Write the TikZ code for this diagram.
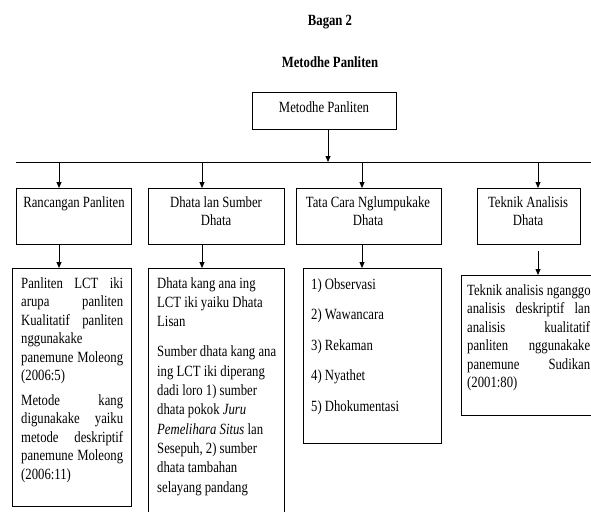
\documentclass[tikz,border=0pt]{standalone}
\usepackage{fontspec}
\setmainfont{Liberation Serif}[FakeStretch=0.815]
\usetikzlibrary{arrows.meta}
\newcommand{\fs}{\fontsize{15.6}{18.5}\selectfont}
\newcommand{\jl}[2]{\makebox[#1][s]{#2}}
\tikzset{
  box/.style={draw, line width=0.8pt, inner sep=0pt, anchor=north west},
  arr/.style={-{Triangle[length=6pt,width=5pt]}, line width=0.8pt},
  ln/.style={line width=0.8pt},
  txt/.style={inner sep=0pt, anchor=north west, align=left, font=\fs},
  ctxt/.style={inner sep=0pt, align=center, font=\fs},
  ttl/.style={inner sep=0pt, font=\fs\bfseries}
}
\begin{document}
\begin{tikzpicture}[x=1pt,y=-1pt]
\clip (0,0) rectangle (591,511);
\fill[white] (0,0) rectangle (591,511);
% titles
\node[ttl] (t1) at (330,22) {Bagan 2};
\node[ttl] (t2) at (330,62) {Metodhe Panliten};
% boxes
\node[box, minimum width=144, minimum height=37] (top) at (252,92) {};
\node[box, minimum width=115, minimum height=56] (r1) at (16,188) {};
\node[box, minimum width=136, minimum height=56] (r2) at (148,188) {};
\node[box, minimum width=145, minimum height=56] (r3) at (296,188) {};
\node[box, minimum width=103, minimum height=56] (r4) at (477,188) {};
\node[box, minimum width=119, minimum height=238] (d1) at (12,268) {};
\node[box, minimum width=136, minimum height=260] (d2) at (148,268) {};
\node[box, minimum width=138, minimum height=175] (d3) at (303,268) {};
\node[box, minimum width=150, minimum height=140] (d4) at (461,275) {};
% box texts
\node[ctxt] (toptx) at (324,107) {Metodhe Panliten};
\node[ctxt] (r1tx) at (74,204) {Rancangan Panliten};
\node[ctxt, anchor=north] (r2tx) at (216,196) {Dhata lan Sumber\\Dhata};
\node[ctxt, anchor=north] (r3tx) at (368,196) {Tata Cara Nglumpukake\\Dhata};
\node[ctxt, anchor=north] (r4tx) at (528,196) {Teknik Analisis\\Dhata};
\node[txt] (d1tx) at (21,277) {\jl{102pt}{Panliten LCT iki}\\
\jl{102pt}{arupa panliten}\\
\jl{102pt}{Kualitatif panliten}\\
nggunakake\\
\jl{102pt}{panemune Moleong}\\
(2006:5)\\[6pt]
\jl{102pt}{Metode kang}\\
\jl{102pt}{digunakake yaiku}\\
\jl{102pt}{metode deskriptif}\\
\jl{102pt}{panemune Moleong}\\
(2006:11)};
\node[txt, font=\fontsize{15.6}{19.3}\selectfont] (d2tx) at (157,277) {Dhata kang ana ing\\
LCT iki yaiku Dhata\\
Lisan\\[11pt]
Sumber dhata kang ana\\
ing LCT iki diperang\\
dadi loro 1) sumber\\
dhata pokok \textit{Juru}\\
\textit{Pemelihara Situs} lan\\
Sesepuh, 2) sumber\\
dhata tambahan\\
selayang pandang};
\node[txt] (d3tx) at (311,278) {1) Observasi\\[12pt]
2) Wawancara\\[12pt]
3) Rekaman\\[12pt]
4) Nyathet\\[12pt]
5) Dhokumentasi};
\node[txt] (d4tx) at (467,284) {Teknik analisis nganggo\\
\jl{123pt}{analisis deskriptif lan}\\
\jl{123pt}{analisis kualitatif}\\
\jl{123pt}{panliten nggunakake}\\
\jl{123pt}{panemune Sudikan}\\
(2001:80)};
% connectors
\coordinate (hl) at (16,162);
\coordinate (hr) at (591,162);
\coordinate (b1) at (59,162);
\coordinate (b2) at (202,162);
\coordinate (b3) at (362,162);
\coordinate (b4) at (538,162);
\coordinate (bt) at (328,162);
\draw[arr] (top.south -| bt) -- (bt);
\draw[ln] (hl) -- (hr);
\draw[arr] (b1) -- (b1 |- r1.north);
\draw[arr] (b2) -- (b2 |- r2.north);
\draw[arr] (b3) -- (b3 |- r3.north);
\draw[arr] (b4) -- (b4 |- r4.north);
\draw[arr] (r1.south -| b1) -- (d1.north -| b1);
\draw[arr] (r2.south -| b2) -- (d2.north -| b2);
\draw[arr] (r3.south -| b3) -- (d3.north -| b3);
\draw[arr] ([yshift=-6pt]r4.south -| b4) -- (d4.north -| b4);
\end{tikzpicture}
\end{document}
